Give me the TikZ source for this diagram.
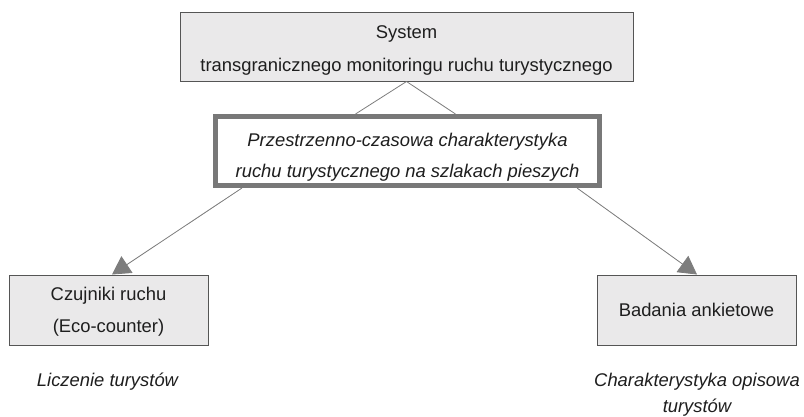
\documentclass[tikz,border=0pt]{standalone}
\usepackage{fontspec}
\setmainfont{Liberation Sans}
\usetikzlibrary{arrows.meta}
\definecolor{boxfill}{RGB}{234,233,234}
\definecolor{boxline}{RGB}{85,85,85}
\definecolor{midline}{RGB}{120,120,120}
\definecolor{conn}{RGB}{125,125,125}
\definecolor{txt}{RGB}{30,30,30}
\tikzset{
  txtfont/.style={font=\fontsize{18.4}{32}\selectfont, text=txt},
  graybox/.style={txtfont, draw=boxline, line width=1pt, fill=boxfill, rectangle, align=center, inner sep=0pt},
  midbox/.style={txtfont, draw=midline, line width=5pt, fill=white, rectangle, align=center, inner sep=0pt, font=\fontsize{18.4}{31.5}\selectfont\itshape},
  conline/.style={draw=conn, line width=0.8pt},
  conarrow/.style={conline, -{Triangle[length=18pt,width=20pt]}, fill=conn},
  caption/.style={txtfont, align=center, font=\fontsize{18.4}{25.5}\selectfont\itshape}
}
\begin{document}
\begin{tikzpicture}[x=1pt,y=-1pt]
\useasboundingbox (0,0) rectangle (804,416);
\node[graybox, minimum width=453pt, minimum height=69pt, font=\fontsize{18.4}{33}\selectfont] (top) at (406.5,46.5) {\rule{0pt}{21pt}System\\transgranicznego monitoringu ruchu turystycznego};
\node[midbox, minimum width=384pt, minimum height=69pt] (mid) at (407.5,151) {\rule{0pt}{26pt}Przestrzenno-czasowa charakterystyka\\ruchu turystycznego na szlakach pieszych};
\node[graybox, minimum width=199pt, minimum height=70pt] (left) at (108.5,310) {\rule{0pt}{17pt}Czujniki ruchu\\(Eco-counter)};
\node[graybox, minimum width=199pt, minimum height=70pt] (right) at (696.5,310) {Badania ankietowe};
\node[caption] (lcap) at (107.5,381.8) {Liczenie turystów};
\node[caption] (rcap) at (697,394.7) {Charakterystyka opisowa\\turystów};
\draw[conline] (top.south) -- ([xshift=-52pt]mid.north);
\draw[conline] (top.south) -- ([xshift=48pt]mid.north);
\draw[conarrow] ([xshift=-165.5pt]mid.south) -- ([xshift=3.5pt]left.north);
\draw[conarrow] ([xshift=169.5pt]mid.south) -- ([xshift=0.5pt]right.north);
\end{tikzpicture}
\end{document}
